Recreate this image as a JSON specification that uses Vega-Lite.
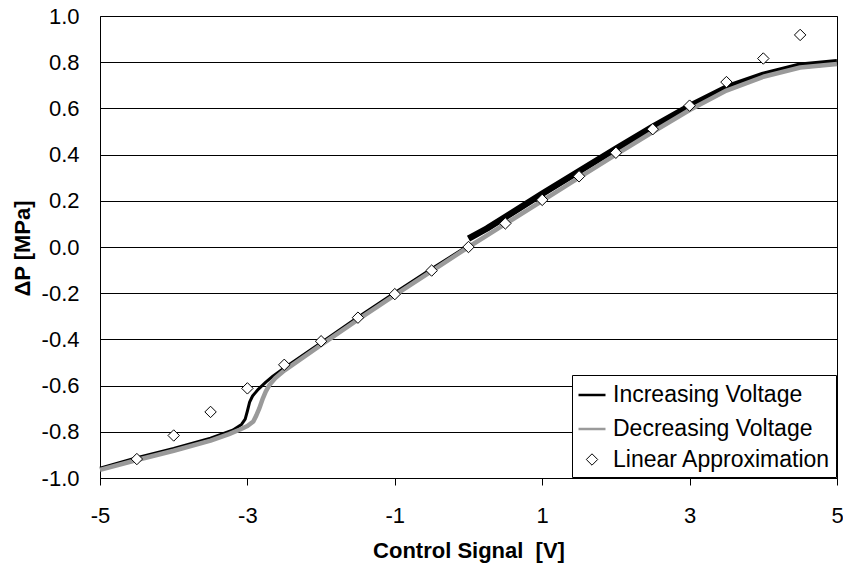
{
  "$schema": "https://vega.github.io/schema/vega-lite/v6.json",
  "width": 737,
  "height": 462,
  "autosize": "none",
  "padding": {"left": 100, "top": 16, "right": 6, "bottom": 91},
  "background": "white",
  "config": {
    "font": "Liberation Sans",
    "view": {"stroke": "black", "strokeWidth": 1},
    "axis": {"labelFont": "Liberation Sans", "titleFont": "Liberation Sans", "labelColor": "black", "titleColor": "black"}
  },
  "datasets": {
    "curves": [
      {"series": "Increasing Voltage", "part": "neg", "x": -5, "y": -0.958},
      {"series": "Increasing Voltage", "part": "neg", "x": -4.5, "y": -0.912},
      {"series": "Increasing Voltage", "part": "neg", "x": -4, "y": -0.872},
      {"series": "Increasing Voltage", "part": "neg", "x": -3.5, "y": -0.828},
      {"series": "Increasing Voltage", "part": "neg", "x": -3.2, "y": -0.793},
      {"series": "Increasing Voltage", "part": "neg", "x": -3.08, "y": -0.768},
      {"series": "Increasing Voltage", "part": "neg", "x": -3.03, "y": -0.745},
      {"series": "Increasing Voltage", "part": "neg", "x": -3.0, "y": -0.71},
      {"series": "Increasing Voltage", "part": "neg", "x": -2.97, "y": -0.672},
      {"series": "Increasing Voltage", "part": "neg", "x": -2.93, "y": -0.645},
      {"series": "Increasing Voltage", "part": "neg", "x": -2.85, "y": -0.615},
      {"series": "Increasing Voltage", "part": "neg", "x": -2.75, "y": -0.585},
      {"series": "Increasing Voltage", "part": "neg", "x": -2.65, "y": -0.558},
      {"series": "Increasing Voltage", "part": "neg", "x": -2.5, "y": -0.524},
      {"series": "Increasing Voltage", "part": "neg", "x": -2, "y": -0.414},
      {"series": "Increasing Voltage", "part": "neg", "x": -1.5, "y": -0.304},
      {"series": "Increasing Voltage", "part": "neg", "x": -1, "y": -0.198},
      {"series": "Increasing Voltage", "part": "neg", "x": -0.5, "y": -0.094},
      {"series": "Increasing Voltage", "part": "neg", "x": 0, "y": 0.006},
      {"series": "Increasing Voltage", "part": "pos", "x": 0, "y": 0.036},
      {"series": "Increasing Voltage", "part": "pos", "x": 0.25, "y": 0.08},
      {"series": "Increasing Voltage", "part": "pos", "x": 0.5, "y": 0.13},
      {"series": "Increasing Voltage", "part": "pos", "x": 1, "y": 0.23},
      {"series": "Increasing Voltage", "part": "pos", "x": 1.5, "y": 0.328},
      {"series": "Increasing Voltage", "part": "pos", "x": 2, "y": 0.425},
      {"series": "Increasing Voltage", "part": "pos", "x": 2.5, "y": 0.52},
      {"series": "Increasing Voltage", "part": "pos", "x": 3, "y": 0.61},
      {"series": "Increasing Voltage", "part": "pos", "x": 3.5, "y": 0.69},
      {"series": "Increasing Voltage", "part": "pos", "x": 4, "y": 0.745},
      {"series": "Increasing Voltage", "part": "pos", "x": 4.5, "y": 0.785},
      {"series": "Increasing Voltage", "part": "pos", "x": 5, "y": 0.80},
      {"series": "Decreasing Voltage", "part": "all", "x": -5, "y": -0.965},
      {"series": "Decreasing Voltage", "part": "all", "x": -4.5, "y": -0.922},
      {"series": "Decreasing Voltage", "part": "all", "x": -4, "y": -0.882},
      {"series": "Decreasing Voltage", "part": "all", "x": -3.5, "y": -0.838},
      {"series": "Decreasing Voltage", "part": "all", "x": -3.25, "y": -0.81},
      {"series": "Decreasing Voltage", "part": "all", "x": -3.1, "y": -0.79},
      {"series": "Decreasing Voltage", "part": "all", "x": -3.0, "y": -0.775},
      {"series": "Decreasing Voltage", "part": "all", "x": -2.92, "y": -0.755},
      {"series": "Decreasing Voltage", "part": "all", "x": -2.88, "y": -0.73},
      {"series": "Decreasing Voltage", "part": "all", "x": -2.84, "y": -0.70},
      {"series": "Decreasing Voltage", "part": "all", "x": -2.79, "y": -0.655},
      {"series": "Decreasing Voltage", "part": "all", "x": -2.75, "y": -0.625},
      {"series": "Decreasing Voltage", "part": "all", "x": -2.7, "y": -0.597},
      {"series": "Decreasing Voltage", "part": "all", "x": -2.62, "y": -0.567},
      {"series": "Decreasing Voltage", "part": "all", "x": -2.5, "y": -0.535},
      {"series": "Decreasing Voltage", "part": "all", "x": -2, "y": -0.424},
      {"series": "Decreasing Voltage", "part": "all", "x": -1.5, "y": -0.314},
      {"series": "Decreasing Voltage", "part": "all", "x": -1, "y": -0.208},
      {"series": "Decreasing Voltage", "part": "all", "x": -0.5, "y": -0.104},
      {"series": "Decreasing Voltage", "part": "all", "x": 0, "y": 0.0},
      {"series": "Decreasing Voltage", "part": "all", "x": 0.5, "y": 0.1},
      {"series": "Decreasing Voltage", "part": "all", "x": 1, "y": 0.2},
      {"series": "Decreasing Voltage", "part": "all", "x": 1.5, "y": 0.3},
      {"series": "Decreasing Voltage", "part": "all", "x": 2, "y": 0.4},
      {"series": "Decreasing Voltage", "part": "all", "x": 2.5, "y": 0.498},
      {"series": "Decreasing Voltage", "part": "all", "x": 3, "y": 0.593},
      {"series": "Decreasing Voltage", "part": "all", "x": 3.5, "y": 0.677},
      {"series": "Decreasing Voltage", "part": "all", "x": 4, "y": 0.737},
      {"series": "Decreasing Voltage", "part": "all", "x": 4.5, "y": 0.777},
      {"series": "Decreasing Voltage", "part": "all", "x": 5, "y": 0.792}
    ],
    "approx": [
      {"series": "Linear Approximation", "x": -4.5, "y": -0.918},
      {"series": "Linear Approximation", "x": -4, "y": -0.816},
      {"series": "Linear Approximation", "x": -3.5, "y": -0.714},
      {"series": "Linear Approximation", "x": -3, "y": -0.612},
      {"series": "Linear Approximation", "x": -2.5, "y": -0.51},
      {"series": "Linear Approximation", "x": -2, "y": -0.408},
      {"series": "Linear Approximation", "x": -1.5, "y": -0.306},
      {"series": "Linear Approximation", "x": -1, "y": -0.204},
      {"series": "Linear Approximation", "x": -0.5, "y": -0.102},
      {"series": "Linear Approximation", "x": 0, "y": 0.0},
      {"series": "Linear Approximation", "x": 0.5, "y": 0.102},
      {"series": "Linear Approximation", "x": 1, "y": 0.204},
      {"series": "Linear Approximation", "x": 1.5, "y": 0.306},
      {"series": "Linear Approximation", "x": 2, "y": 0.408},
      {"series": "Linear Approximation", "x": 2.5, "y": 0.51},
      {"series": "Linear Approximation", "x": 3, "y": 0.612},
      {"series": "Linear Approximation", "x": 3.5, "y": 0.714},
      {"series": "Linear Approximation", "x": 4, "y": 0.816},
      {"series": "Linear Approximation", "x": 4.5, "y": 0.918}
    ]
  },
  "encoding": {
    "x": {
      "type": "quantitative",
      "scale": {"domain": [-5, 5], "nice": false, "zero": false},
      "axis": {
        "values": [-5, -3, -1, 1, 3, 5],
        "labelExpr": "datum.value < 0 ? '-' + format(-datum.value, 'd') : format(datum.value, 'd')",
        "grid": false,
        "domain": true,
        "domainColor": "black",
        "tickColor": "black",
        "tickSize": 7,
        "labelPadding": 20,
        "labelFontSize": 22,
        "labelFlush": false,
        "title": "Control Signal\u00a0 [V]",
        "titleFontSize": 22,
        "titleFontWeight": "bold",
        "titleBaseline": "middle",
        "titleY": 72
      }
    },
    "y": {
      "type": "quantitative",
      "scale": {"domain": [-1, 1], "nice": false, "zero": false},
      "axis": {
        "values": [-1, -0.8, -0.6, -0.4, -0.2, 0, 0.2, 0.4, 0.6, 0.8, 1],
        "labelExpr": "datum.value < -0.001 ? '-' + format(-datum.value, '.1f') : format(abs(datum.value), '.1f')",
        "grid": true,
        "gridColor": "black",
        "gridOpacity": 1,
        "gridWidth": 1,
        "domain": false,
        "ticks": false,
        "labelPadding": 21,
        "labelFontSize": 22,
        "labelFlush": false,
        "title": "ΔP [MPa]",
        "titleFontSize": 22,
        "titleFontWeight": "bold",
        "titleAngle": -90,
        "titleAlign": "center",
        "titleBaseline": "middle",
        "titleX": -78,
        "titleY": 232
      }
    }
  },
  "layer": [
    {
      "mark": {"type": "rule", "color": "black", "strokeWidth": 1},
      "encoding": {"x": {"datum": 0}}
    },
    {
      "data": {"name": "curves"},
      "transform": [{"filter": "datum.series === 'Increasing Voltage' && datum.part === 'neg'"}],
      "mark": {"type": "line", "strokeJoin": "round", "strokeWidth": 3},
      "encoding": {
        "x": {"field": "x", "type": "quantitative"},
        "y": {"field": "y", "type": "quantitative"},
        "color": {"field": "series", "type": "nominal"}
      }
    },
    {
      "data": {"name": "curves"},
      "transform": [{"filter": "datum.series === 'Increasing Voltage' && datum.part === 'pos'"}],
      "mark": {"type": "line", "strokeJoin": "round", "strokeWidth": 6.5},
      "encoding": {
        "x": {"field": "x", "type": "quantitative"},
        "y": {"field": "y", "type": "quantitative"},
        "color": {"field": "series", "type": "nominal"}
      }
    },
    {
      "data": {"name": "curves"},
      "transform": [{"filter": "datum.series === 'Decreasing Voltage'"}],
      "mark": {"type": "line", "strokeWidth": 4.5, "strokeJoin": "round"},
      "encoding": {
        "x": {"field": "x", "type": "quantitative"},
        "y": {"field": "y", "type": "quantitative"},
        "color": {"field": "series", "type": "nominal"}
      }
    },
    {
      "data": {"name": "approx"},
      "mark": {"type": "point", "filled": false, "fill": "white", "opacity": 1},
      "encoding": {
        "x": {"field": "x", "type": "quantitative"},
        "y": {"field": "y", "type": "quantitative"},
        "shape": {
          "field": "series",
          "type": "nominal",
          "scale": {"domain": ["Increasing Voltage", "Decreasing Voltage", "Linear Approximation"], "range": ["stroke", "stroke", "diamond"]}
        },
        "size": {
          "field": "series",
          "type": "nominal",
          "scale": {"type": "ordinal", "domain": ["Increasing Voltage", "Decreasing Voltage", "Linear Approximation"], "range": [729, 729, 130]}
        },
        "strokeWidth": {
          "field": "series",
          "type": "nominal",
          "scale": {"type": "ordinal", "domain": ["Increasing Voltage", "Decreasing Voltage", "Linear Approximation"], "range": [2.5, 2.5, 1]}
        },
        "color": {
          "field": "series",
          "type": "nominal",
          "scale": {"domain": ["Increasing Voltage", "Decreasing Voltage", "Linear Approximation"], "range": ["black", "#9a9a9a", "black"]},
          "legend": {
            "orient": "none",
            "legendX": 472,
            "legendY": 359,
            "title": null,
            "strokeColor": "black",
            "fillColor": "white",
            "padding": 5,
            "rowPadding": 7,
            "labelOffset": 6,
            "labelFontSize": 23,
            "labelFont": "Liberation Sans",
            "labelColor": "black",
            "labelLimit": 400
          }
        }
      }
    }
  ]
}
